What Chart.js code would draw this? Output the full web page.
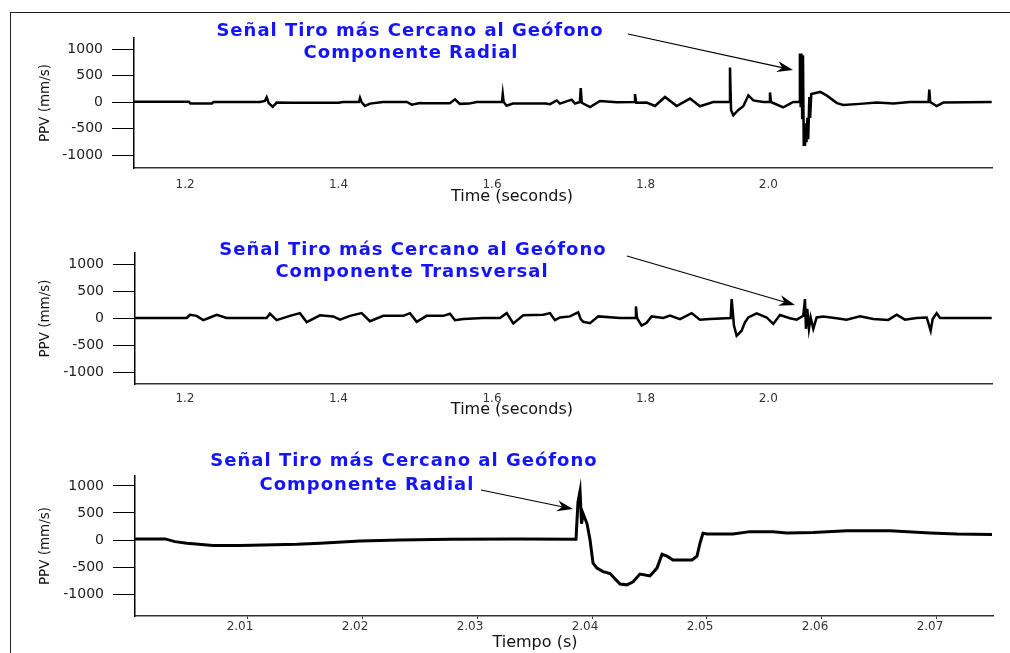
<!DOCTYPE html>
<html>
<head>
<meta charset="utf-8">
<script src="https://cdn.jsdelivr.net/npm/chart.js@4.4.0/dist/chart.umd.min.js"></script>
<style>
html, body { margin: 0; padding: 0; background: #fff; }
body { width: 1010px; height: 653px; position: relative; overflow: hidden; }
#frame { position: absolute; left: 10px; top: 12px; width: 1010px; height: 700px;
  border-left: 1.5px solid #222; border-top: 1.5px solid #222; }
canvas { position: absolute; left: 0; }
</style>
</head>
<body>
<div id="frame"></div>
<canvas id="radial" width="1010" height="215" style="top:0px"></canvas>
<canvas id="trans" width="1010" height="215" style="top:215px"></canvas>
<canvas id="detail" width="1010" height="223" style="top:430px"></canvas>
<script>
// radial component, seconds / mm/s
const radialTime = [1.1335, 1.2050, 1.2070, 1.2350, 1.2370, 1.2977, 1.3040, 1.3064, 1.3090, 1.3142,
  1.3194, 1.3400, 1.4000, 1.4060, 1.4265, 1.4280, 1.4300, 1.4345, 1.4410, 1.4580,
  1.4890, 1.4954, 1.5060, 1.5100, 1.5450, 1.5518, 1.5580, 1.5700, 1.5800, 1.6130,
  1.6140, 1.6152, 1.6190, 1.6270, 1.6700, 1.6756, 1.6843, 1.6886, 1.7038, 1.7081,
  1.7145, 1.7156, 1.7170, 1.7277, 1.7407, 1.7625, 1.7853, 1.7863, 1.7880, 1.8015,
  1.8124, 1.8254, 1.8406, 1.8580, 1.8710, 1.8883, 1.9090, 1.9101, 1.9115, 1.9144,
  1.9210, 1.9274, 1.9340, 1.9405, 1.9535, 1.9612, 1.9622, 1.9635, 1.9795, 1.9925,
  2.0003, 2.0012, 2.0022, 2.0032, 2.0042, 2.0052, 2.0062, 2.0070, 2.0078, 2.0088,
  2.0098, 2.0110, 2.0120, 2.0135, 2.0145, 2.0160, 2.0277, 2.0364, 2.0495, 2.0577,
  2.0795, 2.1012, 2.1229, 2.1446, 2.1688, 2.1698, 2.1710, 2.1794, 2.1880, 2.2511];
const radialPPV = [5, 5, -30, -30, 0, 0, 20, 90, -20, -90,
  -10, -15, -15, 0, 0, 80, 0, -75, -30, 0,
  0, -50, -20, -25, -25, 50, -35, -30, 0, 0,
  150, 0, -70, -30, -30, -40, 30, -30, 45, -30,
  0, 265, -15, -95, 20, -5, 0, 150, -15, -10,
  -75, 95, -75, 65, -80, 0, 0, 650, -150, -250,
  -150, -80, 125, 30, 0, 0, 180, 0, -100, 0,
  0, 915, -100, 915, -300, 880, -830, -500, -830, -400,
  -760, -300, -700, 95, -300, 150, 190, 120, -20, -55,
  -35, -10, -30, 0, 0, 235, 0, -75, -10, 0];

// transverse component
const transTime = [1.1349, 1.2022, 1.2065, 1.2152, 1.2239, 1.2326, 1.2413, 1.2543, 1.3064, 1.3107,
  1.3194, 1.3368, 1.3498, 1.3586, 1.3759, 1.3932, 1.4020, 1.4150, 1.4302, 1.4410,
  1.4584, 1.4844, 1.4932, 1.5019, 1.5149, 1.5366, 1.5453, 1.5518, 1.5627, 1.5887,
  1.6104, 1.6192, 1.6278, 1.6408, 1.6668, 1.6756, 1.6821, 1.6886, 1.7016, 1.7081,
  1.7124, 1.7156, 1.7190, 1.7277, 1.7385, 1.7668, 1.7866, 1.7876, 1.7890, 1.7950,
  1.8015, 1.8080, 1.8232, 1.8319, 1.8450, 1.8602, 1.8710, 1.8840, 1.9110, 1.9123,
  1.9153, 1.9188, 1.9253, 1.9296, 1.9340, 1.9449, 1.9579, 1.9665, 1.9752, 1.9883,
  1.9970, 2.0056, 2.0078, 2.0091, 2.0108, 2.0130, 2.0152, 2.0187, 2.0230, 2.0317,
  2.0490, 2.0620, 2.0795, 2.0968, 2.1164, 2.1273, 2.1381, 2.1533, 2.1664, 2.1716,
  2.1742, 2.1794, 2.1837, 2.2511];
const transPPV = [0, 0, 60, 40, -40, 10, 60, 0, 0, 80,
  -40, 40, 90, -75, 50, 30, -30, 40, 90, -60,
  40, 40, 90, -70, 40, 40, 80, -40, -20, 0,
  0, 90, -100, 50, 60, 90, -40, 10, 30, 75,
  105, -20, -70, -95, 30, 0, 0, 215, 0, -140,
  -90, 30, 0, 45, -20, 90, -30, -20, 0, 350,
  -140, -330, -235, -80, 10, 85, 10, -110, 55, -5,
  -30, 40, 350, -200, 170, -200, 10, -200, 10, 30,
  -5, -30, 30, -20, -35, 60, -30, 0, 10, -235,
  -20, 90, 0, 0];

// radial component, zoomed window
const detailTime = [2.00026, 2.00287, 2.00374, 2.00478, 2.00704, 2.00939, 2.01435, 2.01635, 2.01983, 2.02330,
  2.02765, 2.03374, 2.03861, 2.03878, 2.03896, 2.03909, 2.03922, 2.03957, 2.03983, 2.04009,
  2.04043, 2.04096, 2.04157, 2.04243, 2.04304, 2.04357, 2.04417, 2.04504, 2.04565, 2.04609,
  2.04652, 2.04704, 2.04870, 2.04913, 2.04939, 2.04965, 2.05000, 2.05226, 2.05374, 2.05574,
  2.05696, 2.05922, 2.06217, 2.06591, 2.06939, 2.07174, 2.07478];
const detailPPV = [20, 20, -30, -60, -100, -100, -80, -60, -20, 0,
  15, 20, 15, 700, 905, 300, 490, 300, 0, -430,
  -520, -585, -620, -815, -830, -775, -630, -665, -520, -265,
  -300, -370, -370, -300, -60, 125, 110, 110, 155, 155,
  130, 140, 170, 170, 130, 110, 100];

const ppvTicks = [-1000, -500, 0, 500, 1000];
const timeTicks = [1.2, 1.4, 1.6, 1.8, 1.96];
const timeTickLabels = ['1.2', '1.4', '1.6', '1.8', '2.0'];
const detailTicks = [2.01, 2.02, 2.03, 2.04, 2.05, 2.06, 2.07];
const detailTickLabels = ['2.01', '2.02', '2.03', '2.04', '2.05', '2.06', '2.07'];

const noteTitle = 'Señal Tiro más Cercano al Geófono';

// blue caption, arrow and x title, placed in data units
const notePlugin = {
  id: 'note',
  afterDatasetsDraw(chart, args, o) {
    const {ctx, chartArea} = chart;
    const x = chart.scales.x, y = chart.scales.y;
    ctx.save();
    const x0 = x.getPixelForValue(o.from[0]), y0 = y.getPixelForValue(o.from[1]);
    const x1 = x.getPixelForValue(o.to[0]), y1 = y.getPixelForValue(o.to[1]);
    const a = Math.atan2(y1 - y0, x1 - x0);
    const c = Math.cos(a), s = Math.sin(a);
    ctx.strokeStyle = '#000';
    ctx.fillStyle = '#000';
    ctx.lineWidth = 1.2;
    ctx.beginPath();
    ctx.moveTo(x0, y0);
    ctx.lineTo(x1 - 10 * c, y1 - 10 * s);
    ctx.stroke();
    ctx.beginPath();
    ctx.moveTo(x1, y1);
    ctx.lineTo(x1 - 16 * c + 5.5 * s, y1 - 16 * s - 5.5 * c);
    ctx.lineTo(x1 - 11 * c, y1 - 11 * s);
    ctx.lineTo(x1 - 16 * c - 5.5 * s, y1 - 16 * s + 5.5 * c);
    ctx.closePath();
    ctx.fill();

    ctx.textAlign = 'center';
    ctx.textBaseline = 'middle';
    ctx.font = '16px "DejaVu Sans"';
    ctx.fillStyle = '#111';
    ctx.fillText(o.title, x.getPixelForValue(o.titleX), chartArea.bottom + o.titleGap);

    ctx.font = 'bold 18px "DejaVu Sans"';
    ctx.letterSpacing = '1px';
    ctx.fillStyle = '#1414ff';
    o.lines.forEach(l => {
      ctx.fillText(l.text, x.getPixelForValue(l.x), y.getPixelForValue(l.y));
    });
    ctx.restore();
  }
};

function panel(id, times, values, o) {
  return new Chart(document.getElementById(id), {
    type: 'line',
    data: {
      datasets: [{
        data: times.map((t, i) => ({x: t, y: values[i]})),
        borderColor: '#000',
        borderWidth: o.lineWidth,
        pointRadius: 0,
        tension: 0,
        fill: false
      }]
    },
    options: {
      responsive: false,
      animation: false,
      events: [],
      layout: {padding: {top: o.padTop, right: o.padRight, bottom: o.padBottom, left: 0}},
      plugins: {legend: {display: false}, tooltip: {enabled: false}, note: o.note},
      scales: {
        x: {
          type: 'linear',
          min: o.xMin,
          max: o.xMax,
          afterBuildTicks: sc => { sc.ticks = o.xTicks.map(v => ({value: v})); },
          afterFit: sc => { sc.height = o.xHeight; },
          ticks: {
            callback: (v, i) => o.xLabels[i],
            font: {family: 'DejaVu Sans', size: 12},
            color: '#333',
            padding: o.xPad,
            maxRotation: 0,
            autoSkip: false,
            labelOffset: o.labelOffset
          },
          grid: {display: o.xTickLen > 0, drawOnChartArea: false, tickLength: o.xTickLen, color: '#333'},
          border: {display: true, color: '#333', width: 1.5},
          title: {display: false}
        },
        y: {
          min: o.yMin,
          max: o.yMax,
          afterBuildTicks: sc => { sc.ticks = ppvTicks.map(v => ({value: v})); },
          afterFit: sc => { sc.width = o.yWidth; },
          ticks: {callback: v => String(v), font: {family: 'DejaVu Sans', size: 14}, color: '#222', padding: 9},
          grid: {drawOnChartArea: false, tickLength: 22, color: '#000', lineWidth: 1},
          border: {color: '#000', width: 1.5},
          title: {display: true, text: 'PPV (mm/s)', font: {family: 'DejaVu Sans', size: 13.5}, color: '#111',
            padding: {top: 37, bottom: 0}}
        }
      }
    },
    plugins: [notePlugin]
  });
}

panel('radial', radialTime, radialPPV, {
  lineWidth: 2.5, padTop: 38, padRight: 18, padBottom: 7, xHeight: 40, xPad: 10,
  xMin: 1.1335, xMax: 2.2515, yMin: -1245, yMax: 1208, yWidth: 134,
  xTicks: timeTicks, xLabels: timeTickLabels, xTickLen: 0, labelOffset: 0,
  note: {
    title: 'Time (seconds)', titleX: 1.626, titleGap: 29,
    lines: [{text: noteTitle, x: 1.4932, y: 1340}, {text: 'Componente Radial', x: 1.4945, y: 925}],
    from: [1.7772, 1283], to: [1.9922, 604]
  }
});

panel('trans', transTime, transPPV, {
  lineWidth: 2.5, padTop: 38, padRight: 18, padBottom: 6, xHeight: 40, xPad: 8,
  xMin: 1.1349, xMax: 2.2515, yMin: -1222, yMax: 1204, yWidth: 135,
  xTicks: timeTicks, xLabels: timeTickLabels, xTickLen: 0, labelOffset: 0,
  note: {
    title: 'Time (seconds)', titleX: 1.626, titleGap: 26,
    lines: [{text: noteTitle, x: 1.4971, y: 1259}, {text: 'Componente Transversal', x: 1.4958, y: 852}],
    from: [1.7759, 1148], to: [1.9948, 241]
  }
});

panel('detail', detailTime, detailPPV, {
  lineWidth: 3, padTop: 46, padRight: 17, padBottom: 0, xHeight: 37, xPad: 1,
  xMin: 2.00026, xMax: 2.07487, yMin: -1407, yMax: 1185, yWidth: 135,
  xTicks: detailTicks, xLabels: detailTickLabels, xTickLen: 3, labelOffset: -7,
  note: {
    title: 'Tiempo (s)', titleX: 2.03504, titleGap: 27,
    lines: [{text: noteTitle, x: 2.02365, y: 1463}, {text: 'Componente Radial', x: 2.02043, y: 1019}],
    from: [2.03035, 926], to: [2.03835, 574]
  }
});
</script>
</body>
</html>
